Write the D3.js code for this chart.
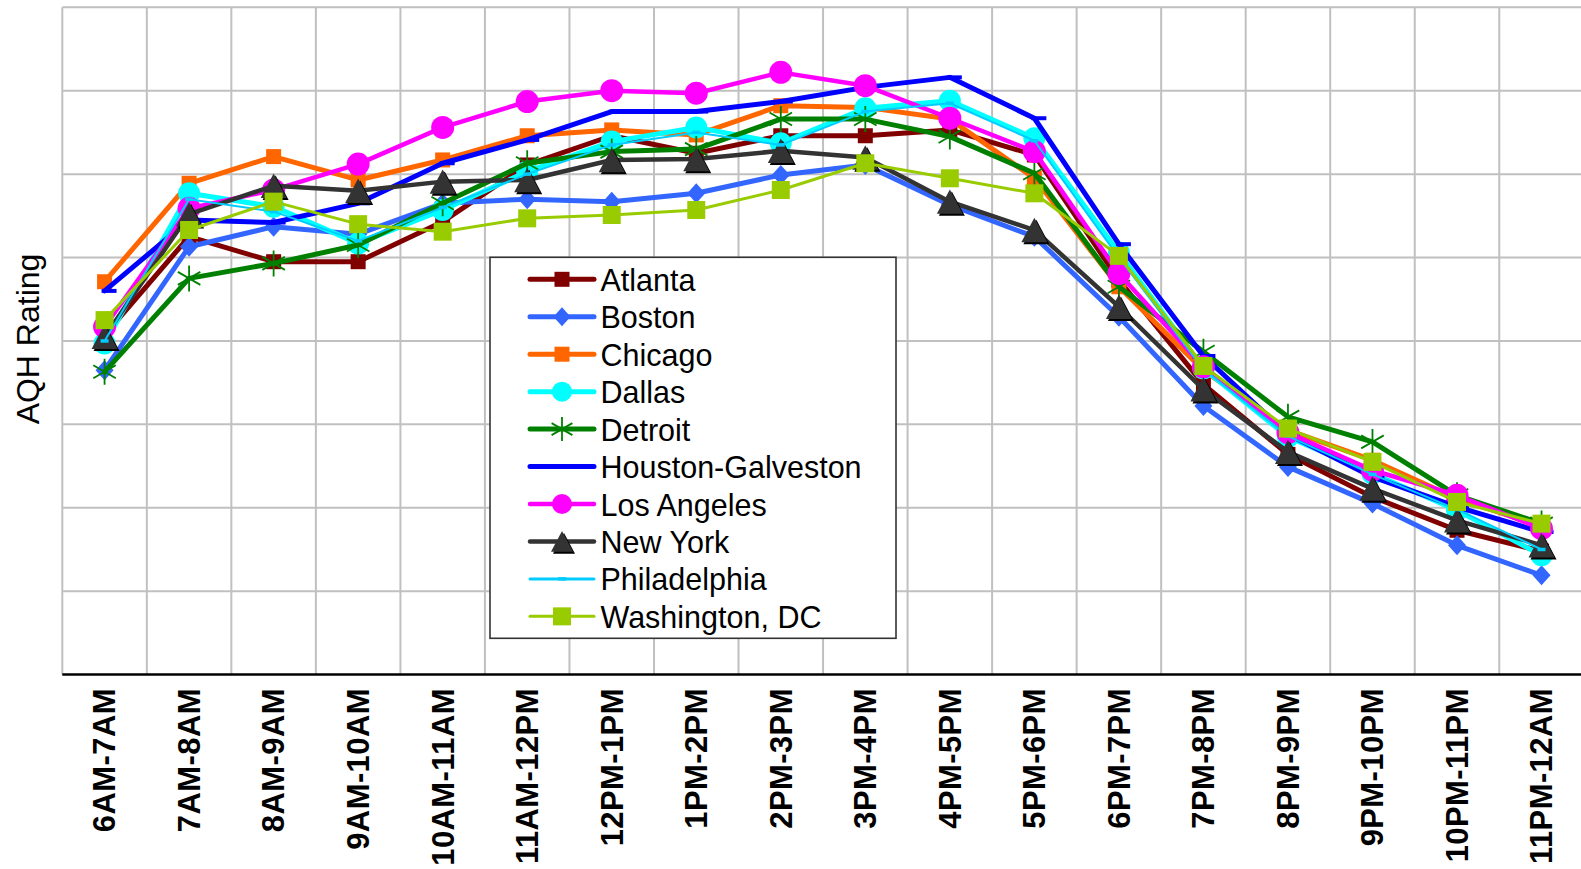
<!DOCTYPE html>
<html>
<head>
<meta charset="utf-8">
<script src="https://cdn.jsdelivr.net/npm/d3@7"></script>
<style>
  html, body { margin: 0; padding: 0; background: #fff; }
  svg { display: block; font-family: "Liberation Sans", Arial, sans-serif; }
</style>
</head>
<body>
<svg id="chart" width="1581" height="869"></svg>
<script>
// Hourly AQH rating by market, 6AM through midnight
const timeSlots = ["6AM-7AM","7AM-8AM","8AM-9AM","9AM-10AM","10AM-11AM","11AM-12PM",
  "12PM-1PM","1PM-2PM","2PM-3PM","3PM-4PM","4PM-5PM","5PM-6PM","6PM-7PM","7PM-8PM",
  "8PM-9PM","9PM-10PM","10PM-11PM","11PM-12AM"];

const atlanta      = [4.07,5.25,4.95,4.95,5.43,6.11,6.46,6.25,6.46,6.46,6.53,6.23,4.73,3.48,2.64,2.13,1.73,1.48];
const boston       = [3.65,5.13,5.37,5.28,5.65,5.70,5.67,5.77,5.99,6.11,5.63,5.25,4.29,3.22,2.49,2.05,1.55,1.19];
const chicago      = [4.71,5.89,6.21,5.93,6.17,6.46,6.53,6.47,6.82,6.80,6.66,5.95,4.65,3.65,2.93,2.57,2.11,1.78];
const dallas       = [3.97,5.77,5.61,5.17,5.57,6.03,6.39,6.56,6.37,6.79,6.88,6.43,5.06,3.67,2.85,2.41,1.97,1.43];
const detroit      = [3.63,4.75,4.93,5.15,5.65,6.13,6.27,6.30,6.66,6.66,6.45,6.01,4.65,3.87,3.09,2.79,2.15,1.81];
const houston      = [4.60,5.45,5.42,5.65,6.13,6.41,6.75,6.75,6.87,7.04,7.16,6.67,5.16,3.82,2.88,2.37,2.01,1.71];
const losAngeles   = [4.17,5.59,5.81,6.12,6.56,6.87,7.00,6.97,7.22,7.06,6.67,6.27,4.81,3.69,2.90,2.45,2.15,1.75];
const newYork      = [4.05,5.52,5.86,5.80,5.91,5.93,6.17,6.18,6.28,6.20,5.67,5.33,4.41,3.42,2.67,2.23,1.85,1.55];
const philadelphia = [4.00,5.70,5.55,5.20,5.60,6.00,6.35,6.50,6.35,6.75,6.85,6.40,5.00,3.66,2.86,2.40,1.98,1.50];
const washington   = [4.25,5.33,5.67,5.40,5.31,5.47,5.51,5.57,5.81,6.13,5.95,5.77,5.02,3.70,2.95,2.55,2.07,1.81];

const yTicks = [0,1,2,3,4,5,6,7,8];

const seriesList = [
  { name: "Atlanta",           values: atlanta,      color: "#800000", width: 5,   marker: "square",   size: 15 },
  { name: "Boston",            values: boston,       color: "#3366FF", width: 5,   marker: "diamond",  size: 20 },
  { name: "Chicago",           values: chicago,      color: "#FF6600", width: 5,   marker: "square",   size: 15 },
  { name: "Dallas",            values: dallas,       color: "#00FFFF", width: 5,   marker: "circle",   size: 22 },
  { name: "Detroit",           values: detroit,      color: "#008000", width: 5,   marker: "star",     size: 26 },
  { name: "Houston-Galveston", values: houston,      color: "#0000FF", width: 5,   marker: "dash",     size: 15 },
  { name: "Los Angeles",       values: losAngeles,   color: "#FF00FF", width: 4.5, marker: "circle",   size: 23 },
  { name: "New York",          values: newYork,      color: "#333333", width: 4.5, marker: "triangle", size: 26 },
  { name: "Philadelphia",      values: philadelphia, color: "#00CCFF", width: 2,   marker: "smalldash",size: 8 },
  { name: "Washington, DC",    values: washington,   color: "#99CC00", width: 3,   marker: "square",   size: 18 }
];

const svg = d3.select("#chart");
const plot = { left: 62.3, right: 1583.8, top: 7.3, bottom: 674.6 };

const x = d3.scaleBand().domain(timeSlots).range([plot.left, plot.right]).padding(0);
const y = d3.scaleLinear().domain([0, 8]).range([plot.bottom, plot.top]);
const cx = d => x(d) + x.bandwidth() / 2;

// grid
const grid = svg.append("g");
grid.selectAll("line.h").data(yTicks.filter(t => t > 0)).join("line")
  .attr("x1", plot.left).attr("x2", plot.right)
  .attr("y1", d => y(d)).attr("y2", d => y(d))
  .attr("stroke", "#C0C0C0").attr("stroke-width", 2);
grid.selectAll("line.v").data(timeSlots).join("line")
  .attr("x1", d => x(d)).attr("x2", d => x(d))
  .attr("y1", plot.top).attr("y2", plot.bottom)
  .attr("stroke", "#C0C0C0").attr("stroke-width", 2);

// category axis
const xAxis = svg.append("g").attr("transform", `translate(0,${plot.bottom})`)
  .call(d3.axisBottom(x).tickSize(0).tickPadding(0));
xAxis.select(".domain").attr("stroke", "#000").attr("stroke-width", 2.5)
  .attr("d", `M${plot.left},0H${plot.right}`);
xAxis.selectAll(".tick text")
  .attr("transform", "rotate(-90)")
  .attr("x", -13.5).attr("y", 0).attr("dy", "0.35em")
  .attr("text-anchor", "end")
  .attr("font-size", 31).attr("font-weight", "bold")
  .attr("letter-spacing", 0.4)
  .attr("font-family", "'Liberation Sans', Arial, sans-serif")
  .attr("fill", "#000");

// y title
svg.append("text")
  .attr("transform", "translate(38.5,339) rotate(-90)")
  .attr("text-anchor", "middle")
  .attr("font-size", 32).attr("fill", "#000")
  .text("AQH Rating");

// marker drawing
function drawMarker(g, s, px, py) {
  const k = s.size;
  if (s.marker === "square") {
    g.append("rect").attr("x", px - k/2).attr("y", py - k/2).attr("width", k).attr("height", k)
      .attr("fill", s.color);
  } else if (s.marker === "circle") {
    g.append("circle").attr("cx", px).attr("cy", py).attr("r", k/2).attr("fill", s.color);
  } else if (s.marker === "diamond") {
    const hw = k * 0.45, hh = k * 0.5;
    g.append("path").attr("d", `M${px},${py-hh}L${px+hw},${py}L${px},${py+hh}L${px-hw},${py}Z`)
      .attr("fill", s.color);
  } else if (s.marker === "triangle") {
    const hw = k / 2, hh = k * 0.47;
    const tri = (ox, oy) => `M${px+ox},${py-hh+oy}L${px+hw+ox},${py+hh+oy}L${px-hw+ox},${py+hh+oy}Z`;
    g.append("path").attr("d", tri(2, 2)).attr("fill", "#000");
    g.append("path").attr("d", tri(0, 0)).attr("fill", s.color);
  } else if (s.marker === "star") {
    const r = k / 2, a = r * 0.866, b = r * 0.5;
    g.append("path")
      .attr("d", `M${px},${py-r}V${py+r}M${px-a},${py-b}L${px+a},${py+b}M${px-a},${py+b}L${px+a},${py-b}`)
      .attr("stroke", s.color).attr("stroke-width", 1.8).attr("fill", "none");
  } else if (s.marker === "dash") {
    g.append("line").attr("x1", px - 3).attr("x2", px - 3 + k).attr("y1", py).attr("y2", py)
      .attr("stroke", s.color).attr("stroke-width", 4);
  } else if (s.marker === "smalldash") {
    g.append("line").attr("x1", px - k/2).attr("x2", px + k/2).attr("y1", py).attr("y2", py)
      .attr("stroke", s.color).attr("stroke-width", 3.5);
  }
}

// series lines and markers
const line = d3.line().x((v, i) => cx(timeSlots[i])).y(v => y(v));
seriesList.forEach(s => {
  const g = svg.append("g").attr("class", "series");
  g.append("path").attr("d", line(s.values))
    .attr("fill", "none").attr("stroke", s.color).attr("stroke-width", s.width)
    .attr("stroke-linejoin", "round").attr("stroke-linecap", "round");
  s.values.forEach((v, i) => drawMarker(g, s, cx(timeSlots[i]), y(v)));
});

// legend
const legend = svg.append("g");
legend.append("rect").attr("x", 490).attr("y", 257.3).attr("width", 406).attr("height", 381)
  .attr("fill", "#fff").attr("stroke", "#333").attr("stroke-width", 1.6);
seriesList.forEach((s, i) => {
  const ry = 279.3 + i * 37.45;
  const g = legend.append("g");
  g.append("line").attr("x1", 530).attr("x2", 594).attr("y1", ry).attr("y2", ry)
    .attr("stroke", s.color).attr("stroke-width", Math.max(s.width, 3)).attr("stroke-linecap", "round");
  const ls = Object.assign({}, s);
  if (s.marker === "dash") ls.size = 0;
  if (s.marker === "circle") ls.size = 20;
  if (s.marker === "triangle") ls.size = 22;
  if (s.marker === "diamond") ls.size = 19;
  if (s.marker === "star") ls.size = 24;
  if (s.marker === "square" && s.name !== "Washington, DC") ls.size = 15;
  if (ls.size > 0) drawMarker(g, ls, 562, ry);
  g.append("text").attr("x", 600.5).attr("y", ry + 11.5)
    .attr("font-size", 30.5).attr("fill", "#000").text(s.name);
});
</script>
</body>
</html>
